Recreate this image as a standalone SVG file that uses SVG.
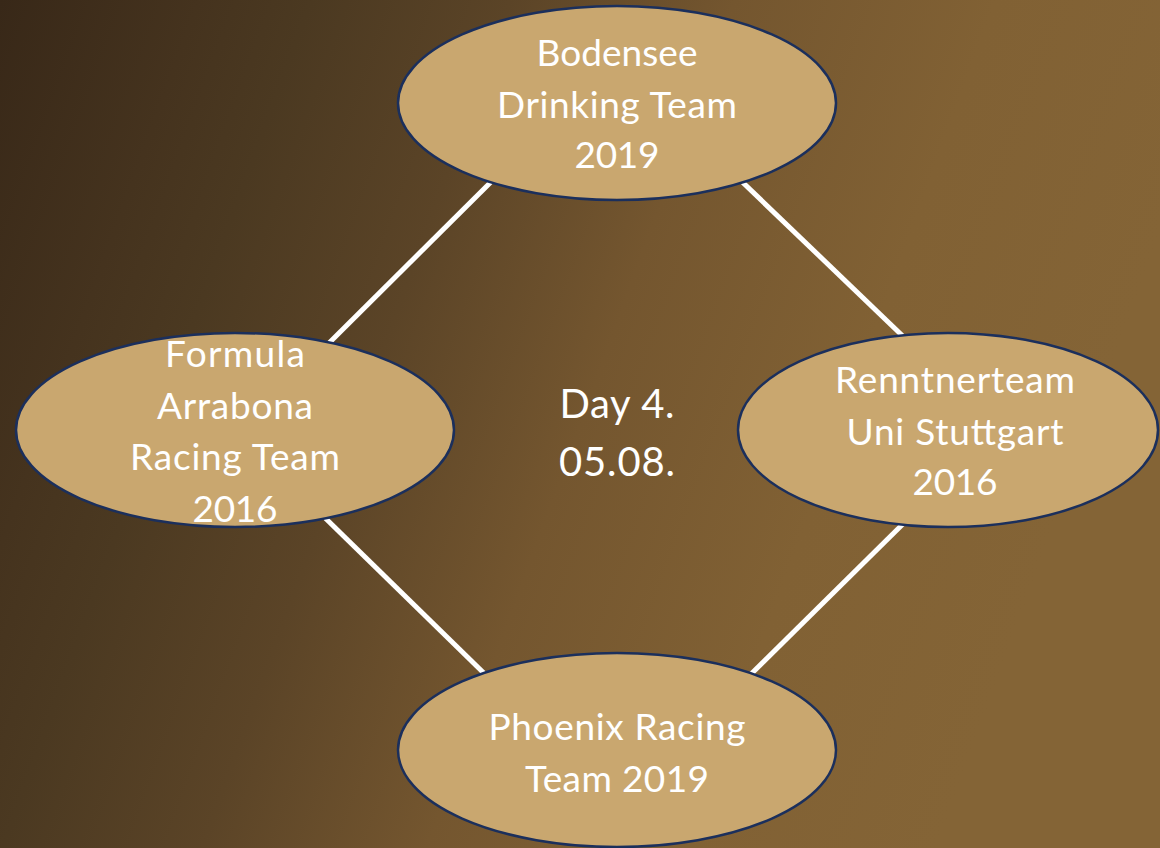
<svg xmlns="http://www.w3.org/2000/svg" width="1160" height="848" viewBox="0 0 1160 848">
  <defs>
    <linearGradient id="bg" gradientUnits="userSpaceOnUse" x1="0" y1="0" x2="1100" y2="400">
      <stop offset="0" stop-color="#382818"/>
      <stop offset="0.16" stop-color="#45331e"/>
      <stop offset="0.25" stop-color="#4b3921"/>
      <stop offset="0.41" stop-color="#5b4427"/>
      <stop offset="0.59" stop-color="#74562f"/>
      <stop offset="0.8" stop-color="#816134"/>
      <stop offset="1" stop-color="#846436"/>
    </linearGradient>
    <style>
      .node { fill: #c9a76f; stroke: #1b2f5c; stroke-width: 2.5; }
      .label { font-family: "Lato", "Liberation Sans", sans-serif; font-size: 37px; fill: #ffffff; text-anchor: middle; }
      .big { font-size: 40px; }
      .edge { stroke: #ffffff; stroke-width: 5; fill: none; }
    </style>
  </defs>
  <rect x="0" y="0" width="1160" height="848" fill="url(#bg)"/>
  <g id="connectors">
    <line class="edge" x1="500" y1="173" x2="320" y2="352"/>
    <line class="edge" x1="735" y1="175" x2="910" y2="343"/>
    <line class="edge" x1="317" y1="510" x2="494" y2="683"/>
    <line class="edge" x1="910" y1="517" x2="743" y2="682"/>
  </g>
  <g id="center-label">
    <text class="label big" x="617" y="418" textLength="115">Day 4.</text>
    <text class="label big" x="617" y="476" textLength="116">05.08.</text>
  </g>
  <g id="node-bodensee">
    <ellipse class="node" cx="617" cy="103" rx="219" ry="97"/>
    <text class="label" x="617" y="66" textLength="161">Bodensee</text>
    <text class="label" x="617" y="118" textLength="240">Drinking Team</text>
    <text class="label" x="617" y="168" textLength="85">2019</text>
  </g>
  <g id="node-formula-arrabona">
    <ellipse class="node" cx="235" cy="430" rx="219" ry="97"/>
    <text class="label" x="235" y="367" textLength="140">Formula</text>
    <text class="label" x="235" y="419" textLength="156">Arrabona</text>
    <text class="label" x="235" y="470" textLength="210">Racing Team</text>
    <text class="label" x="235" y="522" textLength="85">2016</text>
  </g>
  <g id="node-renntnerteam">
    <ellipse class="node" cx="948" cy="430" rx="210" ry="97"/>
    <text class="label" x="955" y="393" textLength="240">Renntnerteam</text>
    <text class="label" x="955" y="445" textLength="217">Uni Stuttgart</text>
    <text class="label" x="955" y="495" textLength="85">2016</text>
  </g>
  <g id="node-phoenix">
    <ellipse class="node" cx="617" cy="750" rx="219" ry="97"/>
    <text class="label" x="617" y="740" textLength="257">Phoenix Racing</text>
    <text class="label" x="617" y="792" textLength="184">Team 2019</text>
  </g>
</svg>
